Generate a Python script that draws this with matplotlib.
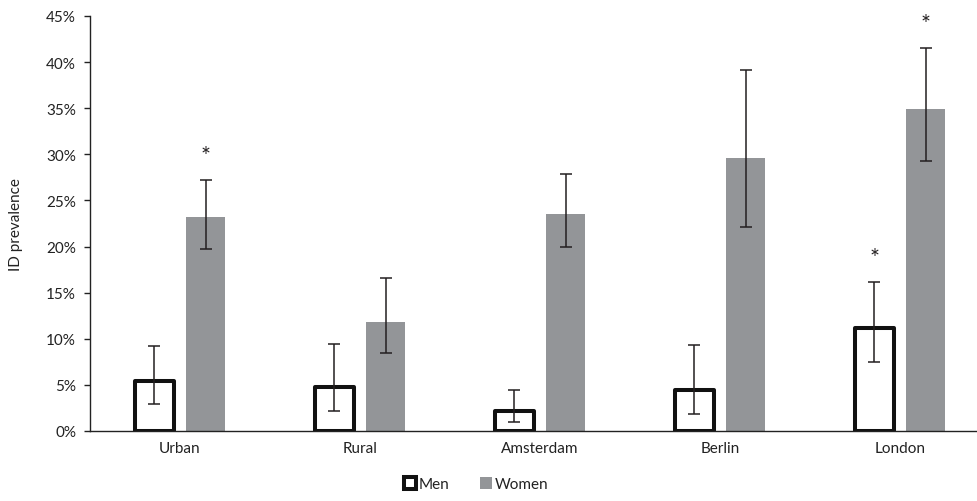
import matplotlib.pyplot as plt
import numpy as np

plt.rcParams['font.family'] = ['Lato', 'DejaVu Sans']

# data (percent)
categories = ['Urban', 'Rural', 'Amsterdam', 'Berlin', 'London']
men = [5.45, 4.8, 2.2, 4.45, 11.2]
men_low = [2.9, 2.2, 1.0, 1.8, 7.5]
men_high = [9.2, 9.4, 4.4, 9.3, 16.2]
women = [23.2, 11.85, 23.5, 29.6, 34.9]
women_low = [19.7, 8.45, 20.0, 22.1, 29.3]
women_high = [27.2, 16.6, 27.9, 39.1, 41.5]
men_sig = [False, False, False, False, True]
women_sig = [True, False, False, False, True]
yticks = [0, 5, 10, 15, 20, 25, 30, 35, 40, 45]

fig = plt.figure(figsize=(9.78, 5.02), dpi=100)
ax = fig.add_axes([90 / 978, 1 - 432 / 502, 900 / 978, 415 / 502])

x = np.arange(len(categories))
off = 0.142
w = 0.22
ink = '#231f20'
grey = '#939598'

men_err = [np.array(men) - np.array(men_low), np.array(men_high) - np.array(men)]
women_err = [np.array(women) - np.array(women_low), np.array(women_high) - np.array(women)]

ax.bar(x - off, men, w, color='white', edgecolor='#111111', linewidth=2.9,
       joinstyle='round', label='Men', zorder=2)
ax.bar(x + off, women, w, color=grey, label='Women', zorder=2)
ax.errorbar(x - off, men, yerr=men_err, fmt='none', ecolor=ink, elinewidth=1.1,
            capsize=4.3, capthick=1.1, zorder=3)
ax.errorbar(x + off, women, yerr=women_err, fmt='none', ecolor=ink, elinewidth=1.1,
            capsize=4.3, capthick=1.1, zorder=3)

# significance stars
for i in range(len(categories)):
    if men_sig[i]:
        ax.text(x[i] - off, men_high[i] + 1.5, '*', ha='center', va='bottom',
                fontsize=17, color=ink)
    if women_sig[i]:
        ax.text(x[i] + off, women_high[i] + 1.5, '*', ha='center', va='bottom',
                fontsize=17, color=ink)

ax.set_xlim(-0.5, 4.5)
ax.set_ylim(0, 45)
ax.set_xticks(x)
ax.set_xticklabels(categories, fontsize=11, color='#222222')
ax.set_yticks(yticks)
ax.set_yticklabels([f'{t}%' for t in yticks], fontsize=11, color='#222222')
ax.tick_params(axis='x', length=0, pad=7)
ax.tick_params(axis='y', length=4, width=1, color='#222222', pad=6)
ax.set_ylabel('ID prevalence', fontsize=11, color='#222222')
ax.yaxis.set_label_coords(-0.074, 0.5)

for s in ['top', 'right']:
    ax.spines[s].set_visible(False)
for s in ['left', 'bottom']:
    ax.spines[s].set_color('#222222')
    ax.spines[s].set_linewidth(1)

fig.legend(loc='lower center', bbox_to_anchor=(0.487, -0.008), ncol=2, frameon=False,
           fontsize=11, handlelength=0.75, handleheight=0.75, handletextpad=0.2,
           columnspacing=2.0, labelcolor='#222222')

plt.savefig('out.png', dpi=100)
